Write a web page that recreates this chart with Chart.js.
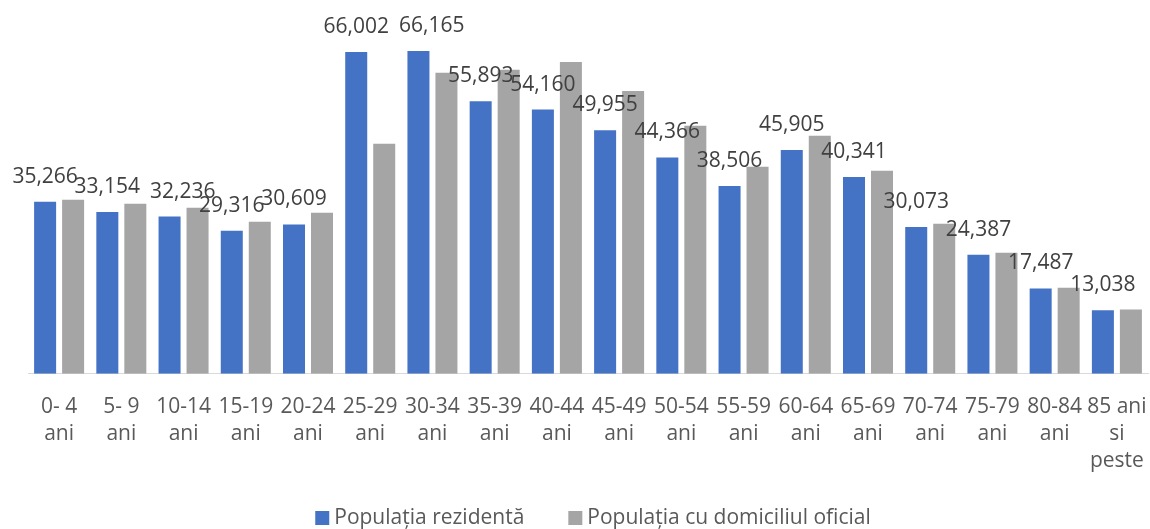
<!DOCTYPE html>
<html>
<head>
<meta charset="utf-8">
<script src="https://cdn.jsdelivr.net/npm/chart.js@4.4.0/dist/chart.umd.min.js"></script>
<style>
    html, body { margin: 0; padding: 0; background: #ffffff; }
    #wrap { width: 1150px; height: 529px; position: relative; }
</style>
</head>
<body>
<div id="wrap"><canvas id="popChart"></canvas></div>
<script>
// Age groups (x axis)
const ageGroups = [
    ['0- 4', 'ani'], ['5- 9', 'ani'], ['10-14', 'ani'], ['15-19', 'ani'],
    ['20-24', 'ani'], ['25-29', 'ani'], ['30-34', 'ani'], ['35-39', 'ani'],
    ['40-44', 'ani'], ['45-49', 'ani'], ['50-54', 'ani'], ['55-59', 'ani'],
    ['60-64', 'ani'], ['65-69', 'ani'], ['70-74', 'ani'], ['75-79', 'ani'],
    ['80-84', 'ani'], ['85 ani', 'si', 'peste']
];

// Resident population (labelled in the chart)
const resident = [
    35266, 33154, 32236, 29316, 30609, 66002, 66165, 55893, 54160,
    49955, 44366, 38506, 45905, 40341, 30073, 24387, 17487, 13038
];

// Population with official residence
const official = [
    35700, 34850, 34050, 31150, 33000, 47150, 61700, 62350, 63950,
    58000, 50850, 42450, 48800, 41650, 30750, 24800, 17650, 13150
];

const seriesNames = ['Populația rezidentă', 'Populația cu domiciliul oficial'];
const seriesColors = ['#4472C4', '#A5A5A5'];

// Value labels above the blue bars
const valueLabels = {
    id: 'valueLabels',
    afterDatasetsDraw(chart) {
        const ctx = chart.ctx;
        const meta = chart.getDatasetMeta(0);
        ctx.save();
        ctx.font = '21px "Open Sans"';
        ctx.fillStyle = '#404040';
        ctx.textAlign = 'left';
        ctx.textBaseline = 'alphabetic';
        let prev = null;
        meta.data.forEach((bar, i) => {
            const text = resident[i].toLocaleString('en-US');
            const w = ctx.measureText(text).width;
            let x = bar.x - w / 2;
            const y = bar.y - 19;
            // nudge right when two labels sit on the same line and collide
            if (prev && Math.abs(prev.y - y) < 6 && x < prev.right + 10) {
                x = prev.right + 10;
            }
            ctx.fillText(text, x, y);
            prev = { right: x + w, y: y };
        });
        ctx.restore();
    }
};

// Legend drawn under the axis labels
const bottomLegend = {
    id: 'bottomLegend',
    afterDraw(chart) {
        const ctx = chart.ctx;
        ctx.save();
        ctx.font = '21px "Open Sans"';
        ctx.textBaseline = 'middle';
        const box = 14, gapText = 5, gapItem = 44;
        const widths = seriesNames.map(n => ctx.measureText(n).width);
        const total = widths.reduce((a, w) => a + box + gapText + w, 0) + gapItem;
        let x = 593 - total / 2;
        const y = chart.height - 11;
        seriesNames.forEach((name, i) => {
            ctx.fillStyle = seriesColors[i];
            ctx.fillRect(x, y - box / 2, box, box);
            x += box + gapText;
            ctx.fillStyle = '#595959';
            ctx.fillText(name, x, y);
            x += widths[i] + gapItem;
        });
        ctx.restore();
    }
};

const ctx = document.getElementById('popChart').getContext('2d');
new Chart(ctx, {
    type: 'bar',
    data: {
        labels: ageGroups,
        datasets: [
            {
                label: seriesNames[0],
                data: resident,
                backgroundColor: seriesColors[0],
                barPercentage: 0.786,
                categoryPercentage: 0.9
            },
            {
                label: seriesNames[1],
                data: official,
                backgroundColor: seriesColors[1],
                barPercentage: 0.786,
                categoryPercentage: 0.9
            }
        ]
    },
    options: {
        responsive: true,
        maintainAspectRatio: false,
        animation: false,
        layout: {
            padding: { left: 28, right: 2, top: 8, bottom: 34 }
        },
        plugins: {
            legend: { display: false },
            tooltip: { enabled: false }
        },
        scales: {
            x: {
                grid: { display: false, drawTicks: false },
                border: { display: true, color: '#D9D9D9', width: 1 },
                ticks: {
                    color: '#595959',
                    autoSkip: false,
                    maxRotation: 0,
                    padding: 20,
                    font: { family: 'Open Sans', size: 21, lineHeight: 1.29 }
                },
                afterFit(scale) {
                    // keep the plot area full width; labels fit inside the categories
                    scale.paddingLeft = 0;
                    scale.paddingRight = 0;
                }
            },
            y: {
                display: false,
                min: 0,
                max: 75000
            }
        }
    },
    plugins: [valueLabels, bottomLegend]
});
</script>
</body>
</html>
